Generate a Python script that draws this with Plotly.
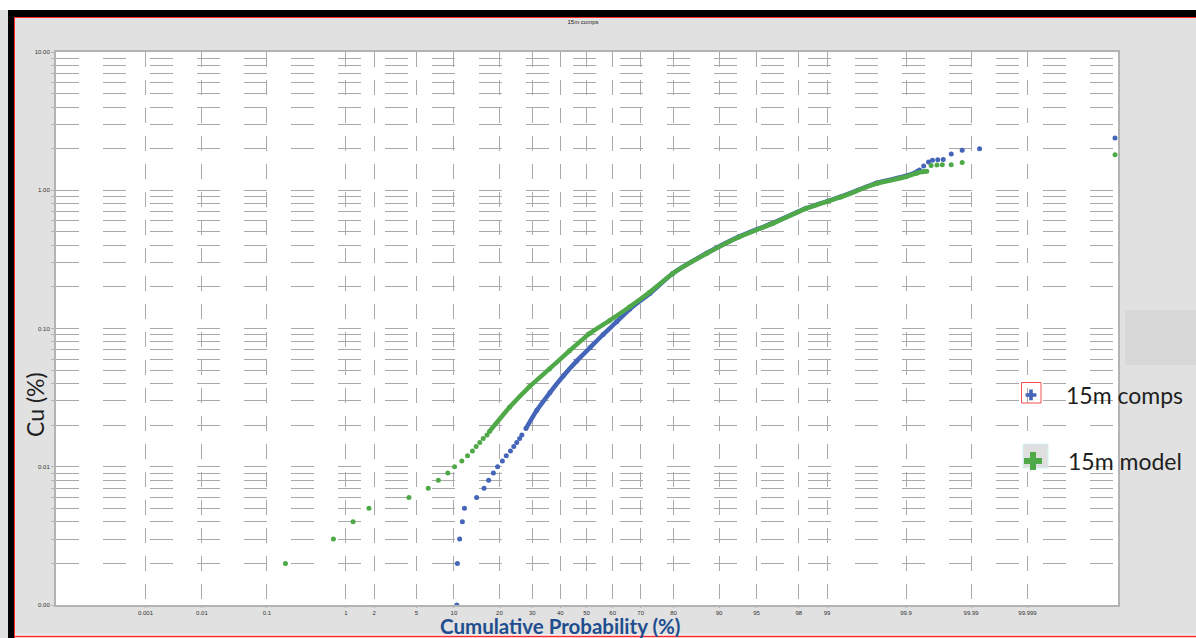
from statistics import NormalDist
import plotly.graph_objects as go

# ---- probability-plot data: cumulative probability (%) vs Cu (%) ----
# 15m comps
comps_low_prob = [10.5, 10.6, 11.0, 11.5, 11.9, 14.4, 16.1, 17.2, 18.4, 19.5, 20.8, 21.9, 23.1, 24.1, 25.0, 25.9, 26.6]
comps_low_cu = [0.001, 0.002, 0.003, 0.004, 0.005, 0.006, 0.007, 0.008, 0.009, 0.010, 0.011, 0.012, 0.013, 0.014, 0.015, 0.016, 0.017]
comps_mid_prob = [27.9, 31.5, 36.2, 41.1, 46.2, 51.4, 56.4, 61.5, 66.3, 73.0, 79.7, 87.7, 93.0, 96.4, 98.3, 99.31, 99.75, 99.90, 99.930, 99.936]
comps_mid_cu = [0.0189, 0.0255, 0.0344, 0.0453, 0.0581, 0.0728, 0.0905, 0.112, 0.1385, 0.179, 0.249, 0.350, 0.462, 0.578, 0.740, 0.90, 1.13, 1.27, 1.36, 1.40]
comps_top_prob = [99.9445, 99.953, 99.959, 99.966, 99.972, 99.979, 99.986, 99.9928, 99.999984]
comps_top_cu = [1.50, 1.60, 1.65, 1.66, 1.67, 1.83, 1.95, 2.00, 2.39]

# 15m model
model_low_prob = [0.18, 0.72, 1.2, 1.77, 4.3, 6.3, 7.6, 9.0, 10.1, 11.4, 12.5, 13.5, 14.3, 15.1, 15.9, 16.8]
model_low_cu = [0.002, 0.003, 0.004, 0.005, 0.006, 0.007, 0.008, 0.009, 0.010, 0.011, 0.012, 0.013, 0.014, 0.015, 0.016, 0.017]
model_mid_prob = [17.4, 22.9, 29.1, 36.0, 43.5, 51.2, 58.8, 66.1, 72.8, 79.7, 87.7, 93.0, 96.4, 98.3, 99.31, 99.75, 99.90, 99.930, 99.943, 99.950]
model_mid_cu = [0.018, 0.027, 0.038, 0.051, 0.069, 0.092, 0.114, 0.143, 0.182, 0.249, 0.348, 0.459, 0.574, 0.737, 0.894, 1.12, 1.25, 1.33, 1.36, 1.37]
model_top_prob = [99.957, 99.965, 99.971, 99.979, 99.986, 99.999984]
model_top_cu = [1.51, 1.52, 1.53, 1.53, 1.59, 1.81]

# ---- axis ticks ----
prob_ticks = [0.001, 0.01, 0.1, 1, 2, 5, 10, 20, 30, 40, 50, 60, 70, 80, 90, 95, 98, 99, 99.9, 99.99, 99.999]
prob_tick_text = ["0.001", "0.01", "0.1", "1", "2", "5", "10", "20", "30", "40", "50", "60", "70",
                  "80", "90", "95", "98", "99", "99.9", "99.99", "99.999"]
cu_ticks = [0.001, 0.01, 0.1, 1, 10]
cu_tick_text = ["0.00", "0.01", "0.10", "1.00", "10.00"]

BLUE = "#4465b8"
GREEN = "#4fa948"
GRID = "#a9a9a9"

nd = NormalDist()


def zscore(probs):
    """Normal-probability scale: percent -> standard normal quantile."""
    return [nd.inv_cdf(p / 100.0) for p in probs]


fig = go.Figure()

# comps series (drawn first, model sits on top)
fig.add_trace(go.Scatter(x=zscore(comps_low_prob), y=comps_low_cu, mode="markers",
                         marker=dict(size=5, color=BLUE), showlegend=False, hoverinfo="skip"))
fig.add_trace(go.Scatter(x=zscore(comps_mid_prob), y=comps_mid_cu, mode="lines+markers",
                         line=dict(color=BLUE, width=4.5, shape="spline", smoothing=0.5),
                         marker=dict(size=5, color=BLUE), showlegend=False, hoverinfo="skip"))
fig.add_trace(go.Scatter(x=zscore(comps_top_prob), y=comps_top_cu, mode="markers",
                         marker=dict(size=5, color=BLUE), showlegend=False, hoverinfo="skip"))

# model series
fig.add_trace(go.Scatter(x=zscore(model_low_prob), y=model_low_cu, mode="markers",
                         marker=dict(size=5, color=GREEN), showlegend=False, hoverinfo="skip"))
fig.add_trace(go.Scatter(x=zscore(model_mid_prob), y=model_mid_cu, mode="lines+markers",
                         line=dict(color=GREEN, width=4.5, shape="spline", smoothing=0.5),
                         marker=dict(size=5, color=GREEN), showlegend=False, hoverinfo="skip"))
fig.add_trace(go.Scatter(x=zscore(model_top_prob), y=model_top_cu, mode="markers",
                         marker=dict(size=5, color=GREEN), showlegend=False, hoverinfo="skip"))

# legend entries
fig.add_trace(go.Scatter(x=[None], y=[None], mode="markers", name="15m comps",
                         marker=dict(symbol="cross", size=9, color=BLUE), legend="legend"))
fig.add_trace(go.Scatter(x=[None], y=[None], mode="markers", name="15m model",
                         marker=dict(symbol="cross", size=15, color=GREEN), legend="legend2"))

# ---- page frame geometry (pixels) ----
L, R, T, B = 56, 1118, 52, 605
W, H = 1196, 638


def xp(px):
    return (px - L) / (R - L)


def yp(py):
    return (B - py) / (B - T)


def rect(x0, y0, x1, y1, fill=None, line=None, lw=0, layer="above"):
    return dict(type="rect", xref="paper", yref="paper",
                x0=xp(x0), x1=xp(x1), y0=yp(y1), y1=yp(y0),
                fillcolor=fill if fill else "rgba(0,0,0,0)",
                line=dict(color=line if line else "rgba(0,0,0,0)", width=lw), layer=layer)


def hline(py, x0, x1, color, lw=1, layer="above"):
    return dict(type="line", xref="paper", yref="paper", x0=xp(x0), x1=xp(x1),
                y0=yp(py), y1=yp(py), line=dict(color=color, width=lw), layer=layer)


def vline(px, y0, y1, color, lw=1):
    return dict(type="line", xref="paper", yref="paper", x0=xp(px), x1=xp(px),
                y0=yp(y0), y1=yp(y1), line=dict(color=color, width=lw), layer="above")


shapes = [
    rect(0, 0, W, 10, fill="white"),
    rect(8, 10, W, 17, fill="black"),
    rect(8, 10, 14, 638, fill="black"),
    hline(17.5, 14, W, "#ff2a2a"),
    vline(14.5, 17, 638, "#ff2a2a"),
    rect(14, 634.5, W, 638, fill="white", layer="below"),
    hline(636.5, 14, W, "#ff2a2a", 1.5, layer="below"),
    rect(1125, 310, W, 365, fill="#d8d8d8"),
    rect(1021.5, 382.5, 1041, 403, line="#f05050", lw=1),
    rect(1023, 444, 1048, 468, fill="#dfdfdf", line="#d4f2f2", lw=1),
]

grid_minor = [k * 10 ** e for e in range(-3, 1) for k in range(2, 10)]

fig.update_layout(
    width=W, height=H, autosize=False,
    margin=dict(l=L, r=W - R, t=T, b=H - B, pad=0, autoexpand=False),
    paper_bgcolor="#e1e1e1",
    plot_bgcolor="white",
    title=dict(text="15m comps", x=xp(583), xref="paper", xanchor="center",
               y=1 - 22 / H, yref="container", yanchor="middle",
               font=dict(family="Liberation Sans", size=6, color="#222")),
    xaxis=dict(range=[-5.13, 5.14], tickmode="array", tickvals=zscore(prob_ticks), ticktext=prob_tick_text,
               showgrid=True, gridcolor=GRID, gridwidth=1, griddash="15px,13px", zeroline=False,
               showline=True, linecolor="#b3b3b3", linewidth=1.5, mirror=True,
               ticks="outside", ticklen=1, tickcolor="#b3b3b3",
               tickfont=dict(family="Liberation Sans", size=6, color="#333")),
    yaxis=dict(type="log", range=[-3, 1], tickmode="array", tickvals=cu_ticks, ticktext=cu_tick_text,
               showgrid=True, gridcolor=GRID, gridwidth=1, griddash="23px,24px", zeroline=False,
               showline=True, linecolor="#b3b3b3", linewidth=2, mirror=True,
               ticks="outside", ticklen=3, tickcolor="#b3b3b3",
               tickfont=dict(family="Liberation Sans", size=6, color="#333"),
               minor=dict(tickvals=grid_minor, showgrid=True, gridcolor=GRID, gridwidth=1,
                          griddash="23px,24px", ticks="outside", ticklen=3, tickcolor="#b3b3b3")),
    legend=dict(x=xp(996), y=yp(395), xanchor="left", yanchor="middle", bgcolor="rgba(0,0,0,0)",
                font=dict(family="Lato", size=23, color="#1e1e1e"), itemwidth=60),
    legend2=dict(x=xp(998), y=yp(461), xanchor="left", yanchor="middle", bgcolor="rgba(0,0,0,0)",
                 font=dict(family="Lato", size=23, color="#1e1e1e"), itemwidth=60),
    shapes=shapes,
    annotations=[
        dict(text="Cumulative Probability (%)", xref="paper", yref="paper", x=xp(560), y=yp(625.5),
             xanchor="center", yanchor="middle", showarrow=False,
             font=dict(family="Lato", size=20.5, color="#1f4e8f", weight="bold")),
        dict(text="Cu (%)", xref="paper", yref="paper", x=xp(35), y=yp(405), textangle=-90,
             xanchor="center", yanchor="middle", showarrow=False,
             font=dict(family="Lato", size=23, color="#1e1e1e")),
    ],
)

fig.write_html("out.html")
